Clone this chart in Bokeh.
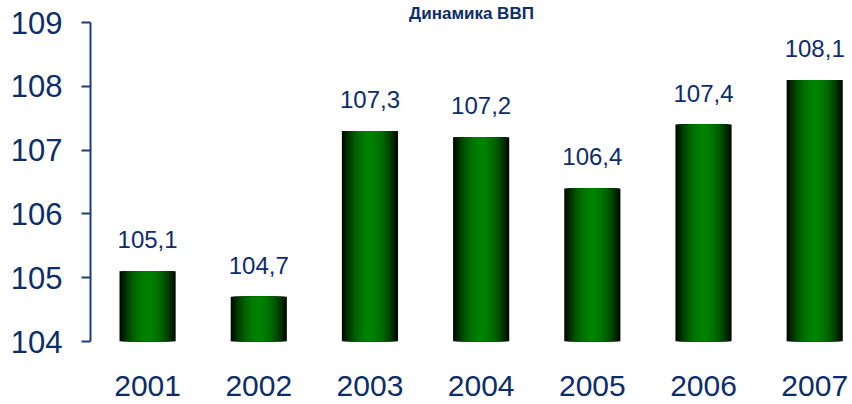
from bokeh.plotting import figure
from bokeh.models import ColumnDataSource, Range1d, FixedTicker
from bokeh.embed import file_html
from bokeh.resources import INLINE

years = ["2001", "2002", "2003", "2004", "2005", "2006", "2007"]
gdp = [105.1, 104.7, 107.3, 107.2, 106.4, 107.4, 108.1]
labels = ["105,1", "104,7", "107,3", "107,2", "106,4", "107,4", "108,1"]
y_ticks = [104, 105, 106, 107, 108, 109]
title_text = "Динамика ВВП"

NAVY = "#0c2c6c"
AXIS = "#1c3c80"
FONT = "Liberation Sans"

xs = list(range(len(years)))
src = ColumnDataSource(dict(x=xs, top=gdp, lab=labels))

p = figure(width=852, height=404, output_backend="svg", toolbar_location=None,
           x_range=Range1d(-0.5135, 6.34), y_range=Range1d(104, 109),
           min_border_left=90, min_border_top=22, min_border_right=0,
           min_border_bottom=63, title=title_text)
p.outline_line_color = None
p.grid.grid_line_color = None
p.background_fill_color = "white"
p.border_fill_color = "white"

p.title.align = "center"
p.title.offset = -34
p.title.standoff = 0
p.title.text_font = FONT
p.title.text_font_size = "17px"
p.title.text_font_style = "bold"
p.title.text_color = NAVY

# gradient bars via nested layers (dark edges, bright centre)
W = 0.505
N = 18
for i in range(N):
    d = 1 - i / N
    g = int(10 + 120 * (1 - d ** 2.0))
    col = "#00%02x00" % g
    p.vbar(x="x", top="top", bottom=104, width=W * d, source=src,
           fill_color=col, line_color=None)

p.text(x="x", y="top", text="lab", source=src, text_align="center",
       text_baseline="bottom", y_offset=-23, text_color=NAVY,
       text_font_size="24px", text_font={"value": FONT})

# axes
p.yaxis.ticker = FixedTicker(ticks=y_ticks)
p.yaxis.minor_tick_line_color = None
p.yaxis.major_tick_in = 0
p.yaxis.major_tick_out = 9
p.yaxis.major_tick_line_color = AXIS
p.yaxis.major_tick_line_width = 2
p.yaxis.axis_line_color = AXIS
p.yaxis.axis_line_width = 2
p.yaxis.major_label_standoff = 19
p.yaxis.major_label_text_font = FONT
p.yaxis.major_label_text_font_size = "31px"
p.yaxis.major_label_text_color = NAVY

p.xaxis.ticker = FixedTicker(ticks=xs)
p.xaxis.major_label_overrides = {i: y for i, y in enumerate(years)}
p.xaxis.axis_line_color = None
p.xaxis.major_tick_line_color = None
p.xaxis.major_tick_out = 0
p.xaxis.major_tick_in = 0
p.xaxis.minor_tick_line_color = None
p.xaxis.major_label_standoff = 34
p.xaxis.major_label_text_font = FONT
p.xaxis.major_label_text_font_size = "30px"
p.xaxis.major_label_text_color = NAVY

open("out.html", "w").write(file_html(p, INLINE))
